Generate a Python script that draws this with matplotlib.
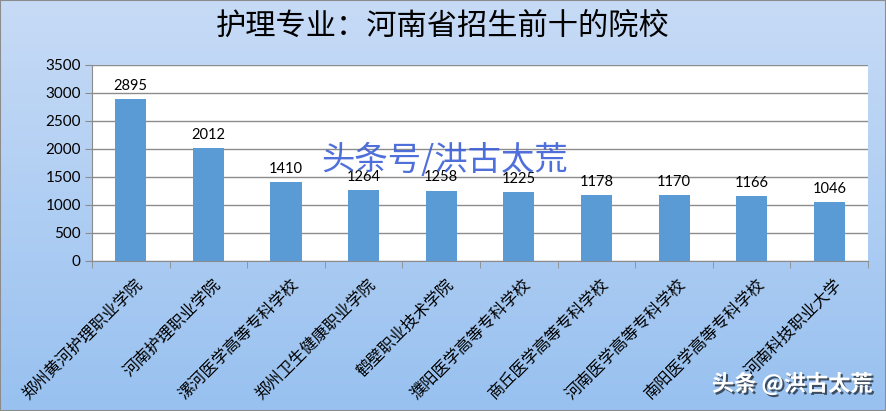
import numpy as np
import matplotlib
matplotlib.use("Agg")
import matplotlib.pyplot as plt
import matplotlib.patheffects as pe

plt.rcParams['font.family'] = ['Noto Sans CJK SC', 'DejaVu Sans']

# 数据
schools = ['郑州黄河护理职业学院', '河南护理职业学院', '漯河医学高等专科学校', '郑州卫生健康职业学院',
           '鹤壁职业技术学院', '濮阳医学高等专科学校', '商丘医学高等专科学校', '河南医学高等专科学校',
           '南阳医学高等专科学校', '河南科技职业大学']
counts = [2895, 2012, 1410, 1264, 1258, 1225, 1178, 1170, 1166, 1046]
yticks = [0, 500, 1000, 1500, 2000, 2500, 3000, 3500]

fig = plt.figure(figsize=(8.86, 4.11), dpi=100)

# 背景渐变
bg = fig.add_axes([0, 0, 1, 1], zorder=-10)
top = np.array([199, 219, 246]) / 255
bot = np.array([152, 193, 240]) / 255
t = np.linspace(0, 1, 256)[:, None]
grad = top * (1 - t[..., None]) + bot * t[..., None]
grad = np.repeat(grad, 2, axis=1)
bg.imshow(grad, aspect='auto', extent=[0, 1, 0, 1])
bg.axis('off')

ax = fig.add_axes([0.1038, 0.365, 0.876, 0.477])
x = np.arange(len(schools))
ax.bar(x, counts, width=0.4, color='#5B9BD5', zorder=3)
for xi, v in zip(x, counts):
    ax.text(xi, v + 110, str(v), ha='center', va='bottom', fontsize=10.5,
            family=['Lato', 'DejaVu Sans'], zorder=4)

ax.set_xlim(-0.5, len(schools) - 0.5)
ax.set_ylim(0, 3500)
ax.set_yticks(yticks)
ax.set_yticklabels([str(v) for v in yticks], family=['Lato', 'DejaVu Sans'], fontsize=11)
ax.yaxis.grid(True, color='#8c8c8c', linewidth=1, zorder=0)
ax.set_axisbelow(True)

ax.set_xticks(x + 0.05)
ax.set_xticklabels(schools, rotation=45, ha='right', rotation_mode='anchor', fontsize=11.7)
ax.tick_params(axis='x', length=0, pad=11)
ax.set_xticks(np.arange(len(schools) + 1) - 0.5, minor=True)
ax.tick_params(axis='x', which='minor', length=5, color='#8c8c8c')
ax.tick_params(axis='y', length=5, color='#8c8c8c', pad=3)

for s in ['top', 'right']:
    ax.spines[s].set_visible(False)
for s in ['left', 'bottom']:
    ax.spines[s].set_color('#8c8c8c')

fig.text(0.5, 0.935, '护理专业：河南省招生前十的院校', ha='center', va='center', fontsize=21.8)

fig.text(0.502, 0.61, '头条号/洪古太荒', ha='center', va='center', fontsize=24,
         color='#3c5fd6', alpha=0.9)

fig.text(0.985, 0.065, '头条 @洪古太荒', ha='right', va='center', fontsize=16, color='white',
         fontweight='bold',
         path_effects=[pe.withSimplePatchShadow(offset=(1.5, -1.5), shadow_rgbFace='black', alpha=0.6)])

fig.patches.append(plt.Rectangle((0, 0), 1, 1, transform=fig.transFigure, fill=False,
                                 edgecolor='#8c8c8c', linewidth=1.5))

plt.savefig('out.png', dpi=100)
plt.close()
